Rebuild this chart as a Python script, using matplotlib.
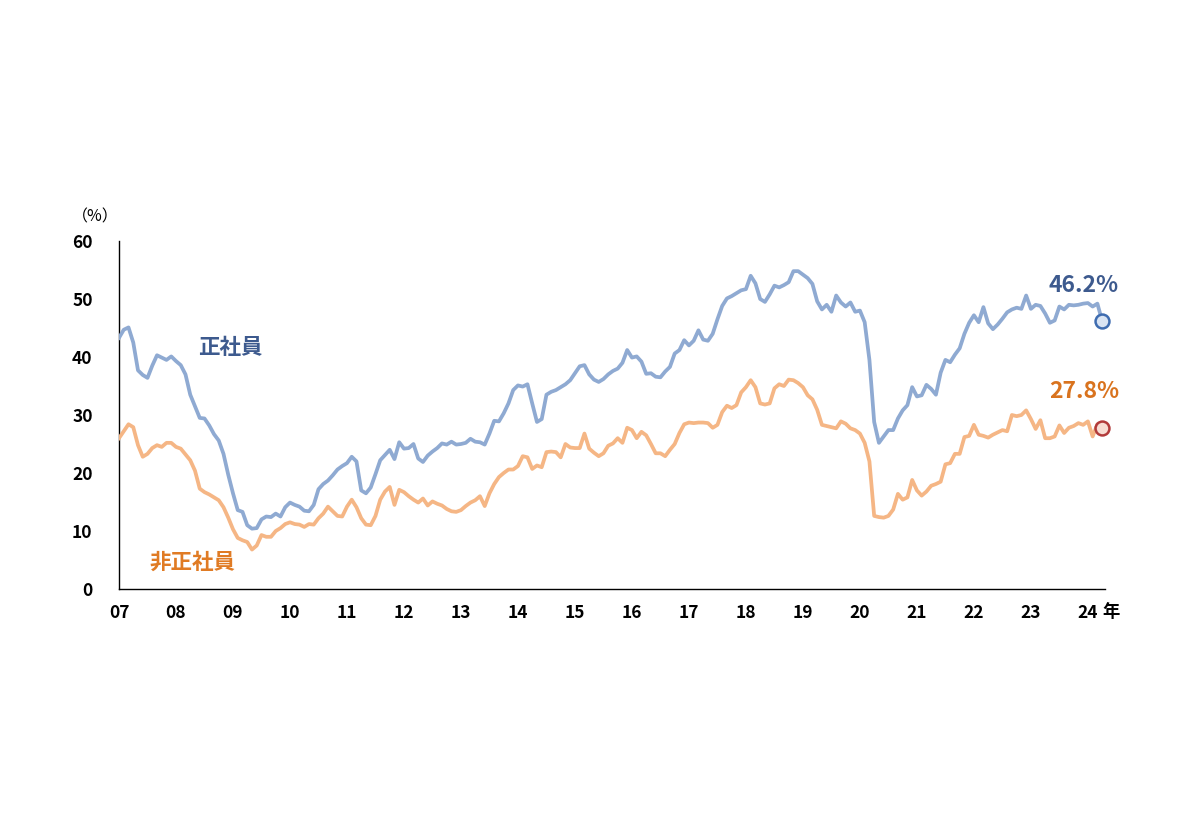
import matplotlib
matplotlib.use("Agg")
import matplotlib.pyplot as plt
import numpy as np

plt.rcParams['font.family'] = ['Noto Sans CJK JP', 'DejaVu Sans']

# Monthly values, Jan 2007 .. Apr 2024 (%)
regular = [
    43.3, 44.7, 45.1, 42.5, 37.7, 36.9, 36.4, 38.5, 40.3, 39.9, 39.5, 40.1,
    39.3, 38.6, 37.0, 33.5, 31.5, 29.5, 29.4, 28.2, 26.7, 25.6, 23.3, 19.7,
    16.5, 13.6, 13.3, 11.0, 10.4, 10.5, 12.0, 12.5, 12.4, 13.0, 12.5, 14.1,
    14.9, 14.5, 14.2, 13.5, 13.4, 14.5, 17.2, 18.1, 18.7, 19.6, 20.6, 21.2,
    21.7, 22.8, 22.0, 17.0, 16.5, 17.5, 19.8, 22.2, 23.1, 24.0, 22.4, 25.3,
    24.2, 24.3, 25.0, 22.5, 21.9, 23.0, 23.7, 24.3, 25.1, 24.9, 25.4, 24.9,
    25.0, 25.2, 25.9, 25.4, 25.3, 24.9, 26.8, 29.0, 28.9, 30.3, 32.0, 34.3,
    35.1, 34.9, 35.3, 32.0, 28.8, 29.3, 33.5, 34.0, 34.3, 34.8, 35.3, 36.0,
    37.2, 38.4, 38.6, 37.0, 36.1, 35.7, 36.2, 37.0, 37.6, 38.0, 39.0, 41.2,
    39.9, 40.1, 39.2, 37.1, 37.2, 36.6, 36.5, 37.5, 38.3, 40.6, 41.2, 42.9,
    42.0, 42.8, 44.6, 43.0, 42.8, 44.0, 46.5, 48.8, 50.1, 50.5, 51.0, 51.5,
    51.7, 54.0, 52.7, 50.0, 49.5, 50.8, 52.3, 52.0, 52.4, 52.9, 54.8, 54.8,
    54.2, 53.6, 52.6, 49.6, 48.2, 49.0, 47.8, 50.6, 49.4, 48.7, 49.4, 47.8,
    48.0, 46.0, 39.5, 28.8, 25.2, 26.3, 27.4, 27.4, 29.4, 30.8, 31.7, 34.8,
    33.2, 33.4, 35.2, 34.5, 33.5, 37.3, 39.5, 39.1, 40.4, 41.5, 44.0, 45.9,
    47.2, 46.0, 48.6, 45.8, 44.8, 45.6, 46.6, 47.7, 48.2, 48.5, 48.3, 50.6,
    48.3, 49.0, 48.8, 47.5, 45.9, 46.3, 48.7, 48.2, 49.0, 48.9, 49.0, 49.2,
    49.3, 48.7, 49.2, 46.2,
]
non_regular = [
    26.0, 27.2, 28.4, 27.9, 24.8, 22.8, 23.3, 24.3, 24.8, 24.5, 25.2, 25.2,
    24.5, 24.2, 23.2, 22.2, 20.4, 17.3, 16.7, 16.3, 15.8, 15.3, 14.1, 12.3,
    10.3, 8.8, 8.4, 8.1, 6.8, 7.5, 9.3, 9.0, 9.0, 10.0, 10.5, 11.2,
    11.5, 11.2, 11.1, 10.7, 11.2, 11.1, 12.2, 13.0, 14.2, 13.4, 12.6, 12.5,
    14.2, 15.4, 14.1, 12.2, 11.1, 11.0, 12.6, 15.4, 16.8, 17.6, 14.5, 17.1,
    16.7, 16.0, 15.4, 14.9, 15.6, 14.4, 15.1, 14.7, 14.4, 13.8, 13.4, 13.3,
    13.6, 14.3, 14.9, 15.3, 16.0, 14.3, 16.5, 18.1, 19.3, 20.0, 20.6, 20.6,
    21.2, 22.9, 22.7, 20.7, 21.3, 21.0, 23.6, 23.7, 23.6, 22.7, 25.0, 24.4,
    24.3, 24.3, 26.8, 24.2, 23.5, 22.9, 23.4, 24.7, 25.1, 26.0, 25.2, 27.8,
    27.4, 26.0, 27.1, 26.5, 25.0, 23.4, 23.4, 22.9, 24.0, 25.0, 26.9, 28.4,
    28.7, 28.6, 28.7, 28.7, 28.6, 27.8, 28.3, 30.5, 31.6, 31.2, 31.7, 33.9,
    34.8, 36.0, 34.8, 32.0, 31.8, 32.0, 34.6, 35.3, 35.0, 36.1, 36.0, 35.5,
    34.8, 33.4, 32.7, 30.9, 28.3, 28.1, 27.9, 27.7, 28.9, 28.5, 27.7, 27.4,
    26.8, 25.2, 22.0, 12.6, 12.4, 12.3, 12.6, 13.7, 16.4, 15.4, 15.8, 18.8,
    17.0, 16.1, 16.8, 17.8, 18.1, 18.5, 21.5, 21.7, 23.3, 23.3, 26.2, 26.4,
    28.3, 26.6, 26.4, 26.1, 26.6, 27.0, 27.4, 27.2, 30.0, 29.8, 30.0, 30.8,
    29.3, 27.6, 29.1, 26.0, 26.0, 26.3, 28.2, 26.9, 27.8, 28.1, 28.6, 28.3,
    28.9, 26.3, 28.4, 27.8,
]
year_labels = ["07", "08", "09", "10", "11", "12", "13", "14", "15", "16",
               "17", "18", "19", "20", "21", "22", "23", "24"]
y_ticks = [0, 10, 20, 30, 40, 50, 60]

fig = plt.figure(figsize=(12, 8.31), dpi=100)
ax = fig.add_axes([119/1200, 1 - 589/831, (1105 - 119)/1200, (589 - 241)/831])

x = np.arange(len(regular))
blue_line = '#8FAAD2'
orange_line = '#F5B685'
ax.plot(x, regular, color=blue_line, lw=2.7, solid_joinstyle='round', zorder=3)
ax.plot(x, non_regular, color=orange_line, lw=2.7, solid_joinstyle='round', zorder=3)

ax.plot(x[-1], regular[-1], 'o', ms=10, mfc='#D9E4F3', mec='#3E6CB0', mew=1.8,
        zorder=4, clip_on=False)
ax.plot(x[-1], non_regular[-1], 'o', ms=10, mfc='#F8DDD3', mec='#B23B3B', mew=1.8,
        zorder=4, clip_on=False)

ax.set_xlim(0, 207.6)
ax.set_ylim(0, 60)
ax.set_yticks(y_ticks)
ax.set_yticklabels([str(v) for v in y_ticks])
ax.set_xticks([12 * i for i in range(len(year_labels))])
ax.set_xticklabels(year_labels)
ax.tick_params(axis='both', length=0, labelsize=12.5)
ax.tick_params(axis='y', pad=19)
ax.tick_params(axis='x', pad=11)
for lab in ax.get_xticklabels() + ax.get_yticklabels():
    lab.set_fontweight('bold')

for side in ['top', 'right']:
    ax.spines[side].set_visible(False)
for side in ['left', 'bottom']:
    ax.spines[side].set_color('black')
    ax.spines[side].set_linewidth(1.0)

# "年" after the last year label
fig.text(1111/1200, 1 - 612/831, '年', ha='center', va='center', fontsize=12.5,
         fontweight='bold')
# unit
fig.text(95/1200, 1 - 217/831, '（%）', ha='center', va='center', fontsize=11.5)

# series labels
fig.text(230/1200, 1 - 347/831, '正社員', ha='center', va='center', fontsize=15.5,
         fontweight='bold', color='#3D5A8E')
fig.text(192/1200, 1 - 562/831, '非正社員', ha='center', va='center', fontsize=15.5,
         fontweight='bold', color='#E07B24')
fig.text(1084/1200, 1 - 285/831, '46.2%', ha='center', va='center', fontsize=16.5,
         fontweight='bold', color='#3D5A8E')
fig.text(1084/1200, 1 - 392/831, '27.8%', ha='center', va='center', fontsize=16.5,
         fontweight='bold', color='#D9731E')

fig.savefig('out.png', dpi=100, facecolor='white')
